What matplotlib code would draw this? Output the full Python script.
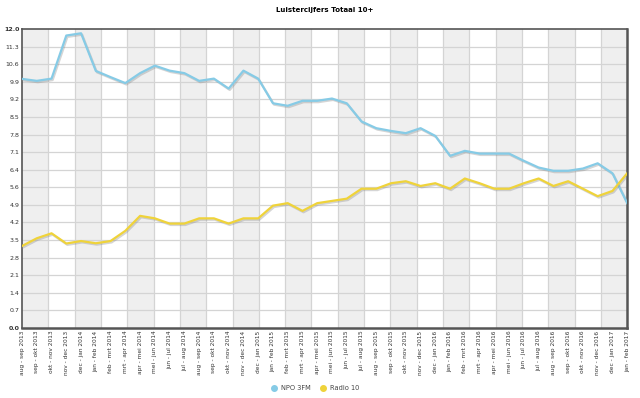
import matplotlib
matplotlib.use('Agg')
import matplotlib.pyplot as plt
import matplotlib.patheffects as pe
import numpy as np

months = ['jan', 'feb', 'mrt', 'apr', 'mei', 'jun', 'jul', 'aug', 'sep', 'okt', 'nov', 'dec']

# periods aug-sep 2013 .. jan-feb 2017
labels = []
for k in range(42):
    m = (7 + k) % 12
    y = 2013 + (7 + k) // 12
    m2 = (m + 1) % 12
    y2 = y + (1 if m2 == 0 else 0)
    labels.append(months[m] + ' - ' + months[m2] + ' ' + str(y2))

npo3fm = [10.0, 9.92, 10.01, 11.74, 11.83, 10.32, 10.07, 9.83, 10.23, 10.53,
          10.33, 10.23, 9.92, 10.01, 9.61, 10.33, 10.01, 9.02, 8.92, 9.12,
          9.12, 9.21, 9.02, 8.29, 8.02, 7.91, 7.82, 8.02, 7.71, 6.91,
          7.11, 7.0, 7.0, 7.0, 6.71, 6.44, 6.31, 6.31, 6.4, 6.61,
          6.21, 5.01]
radio10 = [3.29, 3.6, 3.8, 3.39, 3.49, 3.4, 3.49, 3.9, 4.5, 4.4,
           4.19, 4.19, 4.4, 4.4, 4.19, 4.4, 4.4, 4.91, 5.01, 4.7,
           5.01, 5.1, 5.19, 5.59, 5.59, 5.81, 5.89, 5.7, 5.81, 5.59,
           6.0, 5.81, 5.59, 5.59, 5.81, 6.0, 5.7, 5.89, 5.59, 5.29,
           5.5, 6.21]

fig = plt.figure(figsize=(6.4, 3.98), dpi=100)
ax = fig.add_axes([0.0344, 0.176, 0.9456, 0.751])

x = np.arange(len(labels))
ax.set_xlim(0, len(labels) - 1)
ax.set_ylim(0, 12)

# alternating background bands
nb = 23
bw = (len(labels) - 1) / nb
for i in range(nb):
    if i % 2 == 0:
        ax.axvspan(i * bw, (i + 1) * bw, color='#efefef', zorder=0, lw=0)
    if i > 0:
        ax.axvline(i * bw, color='#d4d4d4', lw=0.9, zorder=1)

yt = np.linspace(0, 12, 18)
for v in yt[1:-1]:
    ax.axhline(v, color='#d4d4d4', lw=0.9, zorder=1)

shadow = [pe.SimpleLineShadow(offset=(0.8, -1.0), shadow_color='#888888', alpha=0.35),
          pe.Normal()]
ax.plot(x, npo3fm, color='#86cbe6', lw=1.6, zorder=3, path_effects=shadow)
ax.plot(x, radio10, color='#efd33a', lw=1.6, zorder=3, path_effects=shadow)

ax.set_yticks(yt)
ax.set_yticklabels(['%.1f' % v for v in yt], fontsize=4.5, color='#333333')
ax.get_yticklabels()[-1].set_fontweight('bold')
ax.get_yticklabels()[0].set_fontweight('bold')
ax.set_xticks(x)
ax.set_xticklabels(labels, rotation=90, fontsize=4.2, color='#333333')
ax.tick_params(axis='both', length=0, pad=2)

for s in ax.spines.values():
    s.set_color('#555555')
    s.set_linewidth(1.2)
ax.spines['bottom'].set_linewidth(1.8)
ax.spines['right'].set_linewidth(1.8)

ax.set_title('Luistercijfers Totaal 10+', fontsize=5, fontweight='bold', pad=12)

h1 = plt.Line2D([], [], marker='o', ls='', color='#86cbe6', markersize=4)
h2 = plt.Line2D([], [], marker='o', ls='', color='#efd33a', markersize=4)
fig.legend([h1, h2], ['NPO 3FM', 'Radio 10'], loc='center', bbox_to_anchor=(0.49, 0.025),
           ncol=2, frameon=False, fontsize=4.8, handletextpad=0.1, columnspacing=0.8,
           labelcolor='#444444')

fig.savefig('out.png', dpi=100)
